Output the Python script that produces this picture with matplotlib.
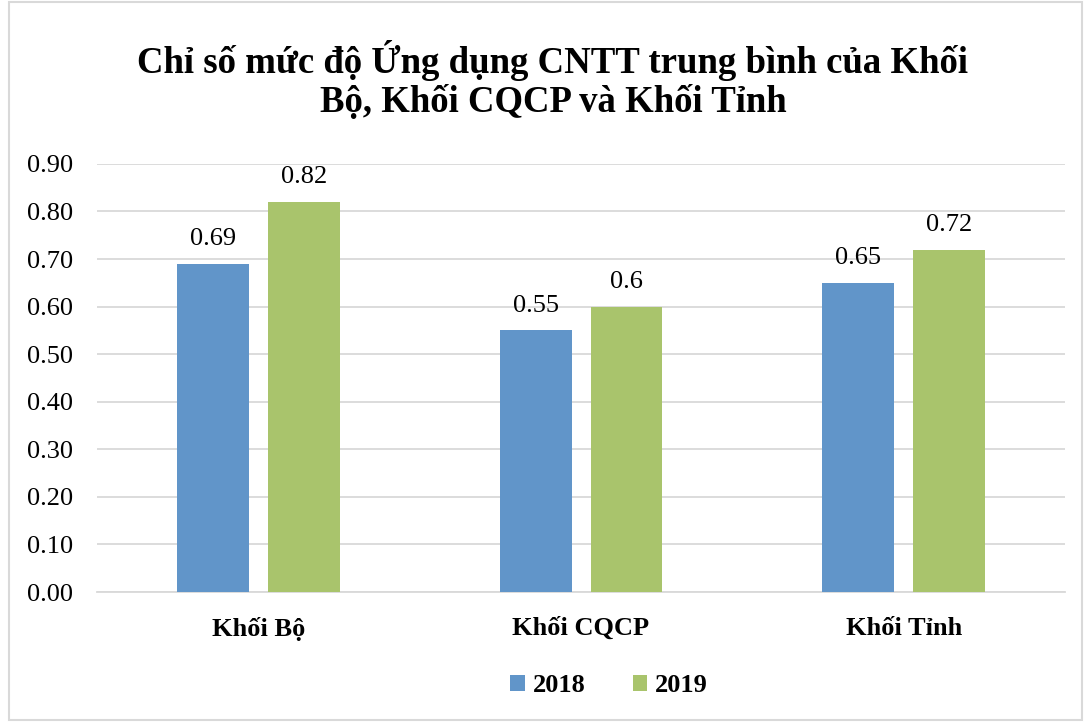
import numpy as np
import matplotlib.pyplot as plt
from matplotlib.patches import Rectangle

categories = ["Khối Bộ", "Khối CQCP", "Khối Tỉnh"]
years = ["2018", "2019"]
values_2018 = [0.69, 0.55, 0.65]
values_2019 = [0.82, 0.60, 0.72]
labels_2018 = ["0.69", "0.55", "0.65"]
labels_2019 = ["0.82", "0.6", "0.72"]

plt.rcParams["font.family"] = ["Liberation Serif", "DejaVu Serif"]

fig = plt.figure(figsize=(10.84, 7.22), dpi=100)
ax = fig.add_axes([0.0895, 0.180, 0.893, 0.593])

x = np.arange(len(categories))
w = 0.223
off = 0.141
b1 = ax.bar(x - off, values_2018, w, color="#6195C9", label=years[0], zorder=3)
b2 = ax.bar(x + off, values_2019, w, color="#A9C46C", label=years[1], zorder=3)

for bars, labs in [(b1, labels_2018), (b2, labels_2019)]:
    for rect, lab in zip(bars, labs):
        ax.annotate(lab, (rect.get_x() + rect.get_width() / 2, rect.get_height()),
                    xytext=(0, 10), textcoords="offset points",
                    ha="center", va="bottom", fontsize=19)

ax.set_xlim(-0.5, 2.5)
ax.set_ylim(0, 0.9)
ax.set_yticks(np.arange(0, 0.91, 0.1))
ax.set_yticklabels([f"{v:.2f}" for v in np.arange(0, 0.91, 0.1)], fontsize=19)
ax.set_xticks(x)
ax.set_xticklabels(categories, fontsize=19, fontweight="bold")
ax.tick_params(axis="both", length=0)
ax.tick_params(axis="y", pad=17)
ax.tick_params(axis="x", pad=18)
ax.grid(axis="y", color="#D9D9D9", linewidth=1.3, zorder=0)
for s in ["left", "right", "top"]:
    ax.spines[s].set_visible(False)
ax.spines["bottom"].set_color("#D9D9D9")
ax.spines["bottom"].set_linewidth(1.3)

fig.text(0.51, 0.945, "Chỉ số mức độ Ứng dụng CNTT trung bình của Khối\nBộ, Khối CQCP và Khối Tỉnh",
         ha="center", va="top", fontsize=26.5, fontweight="bold", linespacing=1.15)

leg = fig.legend(handles=[b1, b2], labels=years, loc="center", bbox_to_anchor=(0.562, 0.05),
                 ncol=2, frameon=False, handlelength=0.55, handleheight=0.55,
                 handletextpad=0.3, columnspacing=1.8,
                 prop={"size": 19, "weight": "bold"})

fig.patches.append(Rectangle((0.008, 0.003), 0.99, 0.994, transform=fig.transFigure,
                             fill=False, edgecolor="#D9D9D9", linewidth=1.5))

fig.savefig("out.png", dpi=100)
